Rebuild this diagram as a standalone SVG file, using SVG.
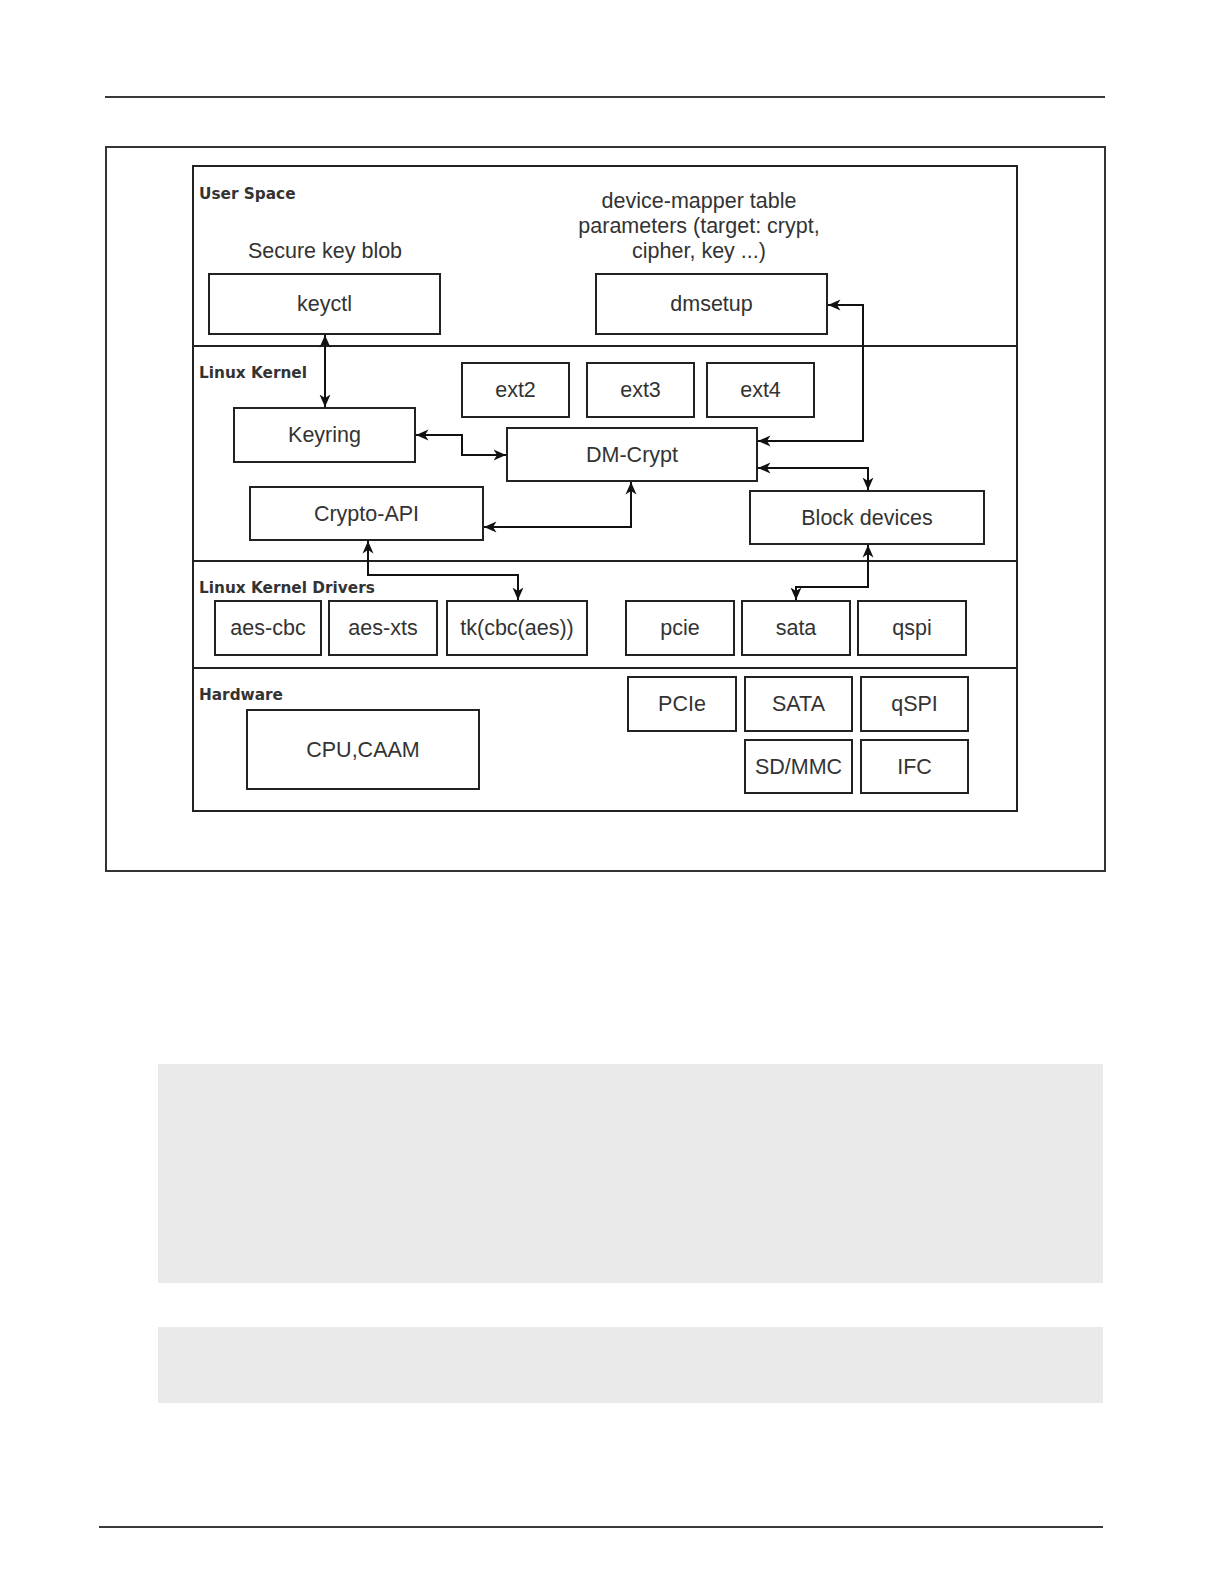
<svg xmlns="http://www.w3.org/2000/svg" width="1225" height="1585" viewBox="0 0 1225 1585">
<defs>
<style>
.rule{stroke:#3a3a3a;stroke-width:2;fill:none}
.frame{fill:none;stroke:#333;stroke-width:2}
.box{fill:#fff;stroke:#222;stroke-width:2}
.t{font-family:"Liberation Sans",Arial,sans-serif;font-size:21.5px;fill:#333;text-anchor:middle}
.lay{font-family:"DejaVu Sans",Verdana,sans-serif;font-weight:bold;font-size:15.3px;fill:#333}
.con{fill:none;stroke:#111;stroke-width:2;marker-start:url(#ah);marker-end:url(#ah)}
.gray{fill:#eaeaea}
</style>
<marker id="ah" markerUnits="userSpaceOnUse" markerWidth="14" markerHeight="13" refX="12.5" refY="6.5" orient="auto-start-reverse">
<path d="M0,1 L12.5,6.5 L0,12 L3.5,6.5 Z" fill="#111"/>
</marker>
</defs>
<rect width="1225" height="1585" fill="#fff"/>
<line class="rule" x1="105" y1="97" x2="1105" y2="97"/>
<rect class="frame" x="106" y="147" width="999" height="724"/>
<g id="layers">
<rect x="193" y="166" width="824" height="645" fill="none" stroke="#222" stroke-width="2"/>
<line x1="193" y1="346" x2="1017" y2="346" stroke="#222" stroke-width="2"/>
<line x1="193" y1="561" x2="1017" y2="561" stroke="#222" stroke-width="2"/>
<line x1="193" y1="668" x2="1017" y2="668" stroke="#222" stroke-width="2"/>
<text class="lay" x="199" y="199">User Space</text>
<text class="lay" x="199" y="378">Linux Kernel</text>
<text class="lay" x="199" y="593">Linux Kernel Drivers</text>
<text class="lay" x="199" y="700">Hardware</text>
<text class="t" x="325" y="258">Secure key blob</text>
<text class="t" x="699" y="208">device-mapper table</text>
<text class="t" x="699" y="233">parameters (target: crypt,</text>
<text class="t" x="699" y="258">cipher, key ...)</text>
</g>
<g id="keyctl"><rect class="box" x="209" y="274" width="231" height="60"/><text class="t" x="324.5" y="311">keyctl</text></g>
<g id="dmsetup"><rect class="box" x="596" y="274" width="231" height="60"/><text class="t" x="711.5" y="311">dmsetup</text></g>
<g id="ext2"><rect class="box" x="462" y="363" width="107" height="54"/><text class="t" x="515.5" y="397">ext2</text></g>
<g id="ext3"><rect class="box" x="587" y="363" width="107" height="54"/><text class="t" x="640.5" y="397">ext3</text></g>
<g id="ext4"><rect class="box" x="707" y="363" width="107" height="54"/><text class="t" x="760.5" y="397">ext4</text></g>
<g id="keyring"><rect class="box" x="234" y="408" width="181" height="54"/><text class="t" x="324.5" y="442">Keyring</text></g>
<g id="dmcrypt"><rect class="box" x="507" y="428" width="250" height="53"/><text class="t" x="632" y="462">DM-Crypt</text></g>
<g id="cryptoapi"><rect class="box" x="250" y="487" width="233" height="53"/><text class="t" x="366.5" y="521">Crypto-API</text></g>
<g id="blockdevices"><rect class="box" x="750" y="491" width="234" height="53"/><text class="t" x="867" y="525">Block devices</text></g>
<g id="aescbc"><rect class="box" x="215" y="601" width="106" height="54"/><text class="t" x="268" y="635">aes-cbc</text></g>
<g id="aesxts"><rect class="box" x="329" y="601" width="108" height="54"/><text class="t" x="383" y="635">aes-xts</text></g>
<g id="tkcbcaes"><rect class="box" x="447" y="601" width="140" height="54"/><text class="t" x="517" y="635">tk(cbc(aes))</text></g>
<g id="pcie"><rect class="box" x="626" y="601" width="108" height="54"/><text class="t" x="680" y="635">pcie</text></g>
<g id="sata"><rect class="box" x="742" y="601" width="108" height="54"/><text class="t" x="796" y="635">sata</text></g>
<g id="qspi"><rect class="box" x="858" y="601" width="108" height="54"/><text class="t" x="912" y="635">qspi</text></g>
<g id="PCIe"><rect class="box" x="628" y="677" width="108" height="54"/><text class="t" x="682" y="711">PCIe</text></g>
<g id="SATA"><rect class="box" x="745" y="677" width="107" height="54"/><text class="t" x="798.5" y="711">SATA</text></g>
<g id="qSPI"><rect class="box" x="861" y="677" width="107" height="54"/><text class="t" x="914.5" y="711">qSPI</text></g>
<g id="SDMMC"><rect class="box" x="745" y="740" width="107" height="53"/><text class="t" x="798.5" y="774">SD/MMC</text></g>
<g id="IFC"><rect class="box" x="861" y="740" width="107" height="53"/><text class="t" x="914.5" y="774">IFC</text></g>
<g id="cpucaam"><rect class="box" x="247" y="710" width="232" height="79"/><text class="t" x="363" y="757">CPU,CAAM</text></g>
<g id="connectors">
<path class="con" d="M325,335 L325,407"/>
<path class="con" d="M416,435 L462,435 L462,455 L506,455"/>
<path class="con" d="M828,305 L863,305 L863,441 L758,441"/>
<path class="con" d="M758,468 L868,468 L868,490"/>
<path class="con" d="M484,527 L631,527 L631,482"/>
<path class="con" d="M368,541 L368,575 L518,575 L518,600"/>
<path class="con" d="M868,545 L868,587 L796,587 L796,600"/>
</g>
<rect class="gray" x="158" y="1064" width="945" height="219"/>
<rect class="gray" x="158" y="1327" width="945" height="76"/>
<line class="rule" x1="99" y1="1527" x2="1103" y2="1527"/>
</svg>
